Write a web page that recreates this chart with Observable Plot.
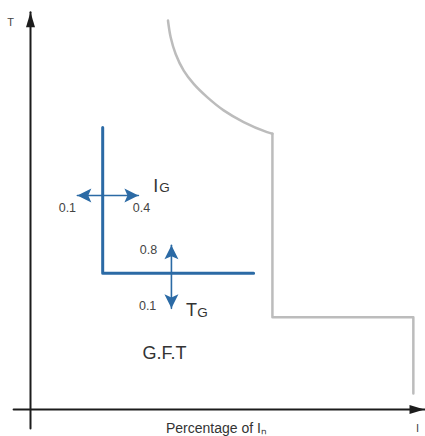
<!DOCTYPE html>
<html>
<head>
<meta charset="utf-8">
<script src="https://cdn.jsdelivr.net/npm/d3@7"></script>
<script src="https://cdn.jsdelivr.net/npm/@observablehq/plot@0.6"></script>
<style>
  html, body { margin: 0; padding: 0; background: #fff; }
</style>
</head>
<body>
<div id="chart"></div>
<script>
// Schematic units: x = percentage-of-current axis (0..100), y = time axis (0..100)
const axisX = [-4.4, 102.6];          // horizontal axis extent
const axisY = [-4.9, 102.1];          // vertical axis extent

// Breaker curve (gray): inverse-time curve then definite steps
const curveX = [35.8, 36.5, 37.8, 39.9, 42.5, 46.0, 50.3, 55.5, 61.6, 63.0];
const curveY = [100.0, 95.7, 91.4, 87.1, 83.7, 80.3, 76.9, 73.9, 71.3, 70.9];
const stepX = [63.0, 63.0, 99.7, 99.7];
const stepY = [70.9, 23.7, 23.7, 4.1];

// Ground fault trip characteristic (blue L)
const gftX = [18.8, 18.8, 58.1];
const gftY = [72.5, 35.0, 35.0];

// Adjustment arrows
const igArrowX = [12.2, 28.1];  const igArrowY = 55.0;   // pickup current IG range 0.1 .. 0.4
const tgArrowY = [42.2, 26.0];  const tgArrowX = 36.7;   // time delay TG range 0.8 .. 0.1

// Labels
const numLabels = ["0.1", "0.4", "0.8", "0.1"];
const numLabelX = [9.6, 28.9, 30.7, 30.5];
const numLabelY = [51.7, 51.7, 41.1, 26.7];

const mainLetters = ["I", "T"];
const mainLetterX = [32.6, 41.9];
const mainLetterY = [57.5, 25.4];
const subLetters = ["G", "G"];
const subLetterX = [34.9, 44.8];
const subLetterY = [56.9, 24.8];

const regionLabel = "G.F.T";
const regionX = 34.9, regionY = 14.4;

const yAxisLabel = "T";
const xAxisEndLabel = "I";
const xAxisTitle = "Percentage of Iₙ";

const toPts = (xs, ys) => xs.map((x, i) => ({x, y: ys[i]}));

function head(len, wid, notch) {
  return {
    draw(ctx) {
      ctx.moveTo(0, 0);
      ctx.lineTo(wid / 2, len);
      ctx.lineTo(0, len * notch);
      ctx.lineTo(-wid / 2, len);
      ctx.closePath();
    }
  };
}
const blueHead = head(14, 14, 0.78);
const axisHead = head(15, 9, 1);

const blue = "#2b6aa5";
const gray = "#bcbcbc";
const ink = "#1c1c1c";
const font = "Liberation Sans, Arial, sans-serif";

const plot = Plot.plot({
  width: 425,
  height: 436,
  margin: 0,
  style: {fontFamily: font, background: "#fff"},
  x: {domain: [0, 100], range: [30, 414], axis: null},
  y: {domain: [0, 100], range: [409, 20], axis: null},
  marks: [
    // axes
    Plot.line(toPts(axisX, [0, 0]), {x: "x", y: "y", stroke: ink, strokeWidth: 2}),
    Plot.line(toPts([0, 0], axisY), {x: "x", y: "y", stroke: ink, strokeWidth: 2}),
    Plot.dot([{x: axisX[1], y: 0}], {x: "x", y: "y", symbol: axisHead, rotate: 90, fill: ink, stroke: "none", r: 5}),
    Plot.dot([{x: 0, y: axisY[1]}], {x: "x", y: "y", symbol: axisHead, rotate: 0, fill: ink, stroke: "none", r: 5}),
    // gray curve
    Plot.line(toPts(curveX, curveY), {x: "x", y: "y", curve: "catmull-rom", stroke: gray, strokeWidth: 2.5}),
    Plot.line(toPts(stepX, stepY), {x: "x", y: "y", stroke: gray, strokeWidth: 2.5}),
    // blue L
    Plot.line(toPts(gftX, gftY), {x: "x", y: "y", stroke: blue, strokeWidth: 3}),
    // IG arrow
    Plot.line(toPts(igArrowX, [igArrowY, igArrowY]), {x: "x", y: "y", stroke: blue, strokeWidth: 1.6}),
    Plot.dot([{x: igArrowX[0], y: igArrowY, r: 270}, {x: igArrowX[1], y: igArrowY, r: 90}],
      {x: "x", y: "y", rotate: "r", symbol: blueHead, fill: blue, stroke: "none", r: 5}),
    // TG arrow
    Plot.line(toPts([tgArrowX, tgArrowX], tgArrowY), {x: "x", y: "y", stroke: blue, strokeWidth: 1.6}),
    Plot.dot([{x: tgArrowX, y: tgArrowY[0], r: 0}, {x: tgArrowX, y: tgArrowY[1], r: 180}],
      {x: "x", y: "y", rotate: "r", symbol: blueHead, fill: blue, stroke: "none", r: 5}),
    // numeric labels
    Plot.text(numLabels, {x: (d, i) => numLabelX[i], y: (d, i) => numLabelY[i], text: d => d,
      fontSize: 12.5, fill: "#444"}),
    Plot.text(mainLetters, {x: (d, i) => mainLetterX[i], y: (d, i) => mainLetterY[i], text: d => d,
      fontSize: 18, fill: "#333"}),
    Plot.text(subLetters, {x: (d, i) => subLetterX[i], y: (d, i) => subLetterY[i], text: d => d,
      fontSize: 13.5, fill: "#333"}),
    Plot.text([regionLabel], {x: regionX, y: regionY, text: d => d, fontSize: 18, fill: "#333"}),
    // axis labels
    Plot.text([yAxisLabel], {x: -5.2, y: 99.5, text: d => d, fontSize: 11, fill: "#444"}),
    Plot.text([xAxisEndLabel], {x: 100.8, y: -4.9, text: d => d, fontSize: 11, fill: "#444"}),
    Plot.text([xAxisTitle], {x: 48.4, y: -4.9, text: d => d, fontSize: 14, fill: "#333"})
  ]
});
document.getElementById("chart").appendChild(plot);
</script>
</body>
</html>
